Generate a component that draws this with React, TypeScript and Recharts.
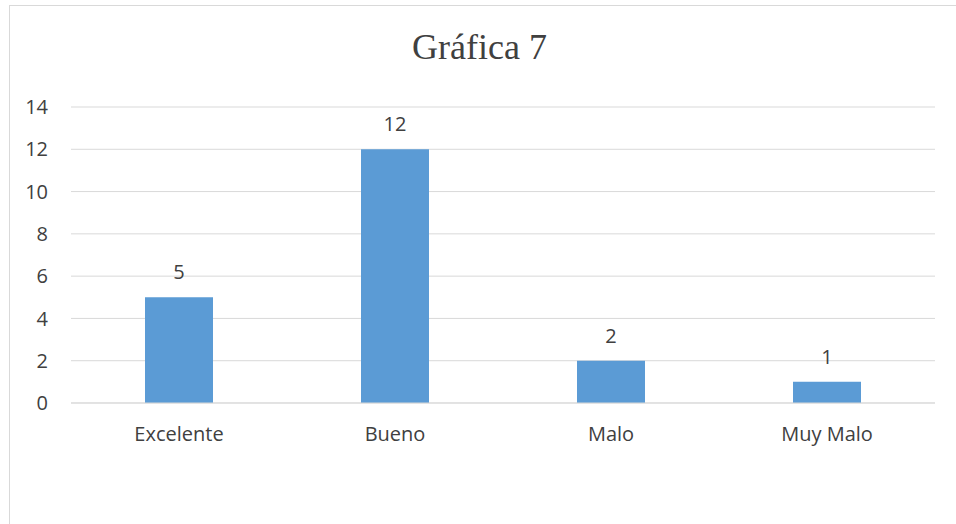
import React from 'react';
import { BarChart, Bar, XAxis, YAxis, CartesianGrid, LabelList } from 'recharts';

const categories = ['Excelente', 'Bueno', 'Malo', 'Muy Malo'];
const values = [5, 12, 2, 1];
const yTicks = [0, 2, 4, 6, 8, 10, 12, 14];
const title = 'Gráfica 7';

const data = categories.map((name, i) => ({ name, value: values[i] }));

const textColor = '#404040';
const font = '"Open Sans", "Noto Sans", sans-serif';

export default function App() {
  return (
    <div style={{ position: 'absolute', left: 0, top: 0, width: 956, height: 524, overflow: 'hidden', background: '#fff' }}>
      <div style={{ position: 'absolute', left: 9, top: 5, width: 1000, height: 600, border: '1px solid #d9d9d9', boxSizing: 'border-box' }} />
      <svg style={{ position: 'absolute', left: 0, top: 0 }} width={956} height={80}>
        <text x={479.5} y={59} textAnchor="middle" fontFamily='"Liberation Serif", "Times New Roman", serif' fontSize={36} fill={textColor}>
          {title}
        </text>
      </svg>
      <div style={{ position: 'absolute', left: 0, top: 0 }}>
        <BarChart width={956} height={524} data={data} margin={{ top: 107, right: 21, bottom: 91, left: 0 }} barSize={68}>
          <CartesianGrid vertical={false} stroke="#d9d9d9" strokeWidth={1} />
          <XAxis
            dataKey="name"
            axisLine={{ stroke: '#d9d9d9' }}
            tickLine={false}
            tickMargin={18}
            height={30}
            tick={{ fill: textColor, fontSize: 20, fontFamily: font }}
          />
          <YAxis
            width={71}
            domain={[0, 14]}
            ticks={yTicks}
            axisLine={false}
            tickLine={false}
            tickMargin={17}
            tick={{ fill: textColor, fontSize: 20, fontFamily: font }}
          />
          <Bar dataKey="value" fill="#5B9BD5" isAnimationActive={false}>
            <LabelList dataKey="value" position="top" offset={18} fill={textColor} fontSize={20} fontFamily={font} />
          </Bar>
        </BarChart>
      </div>
    </div>
  );
}
